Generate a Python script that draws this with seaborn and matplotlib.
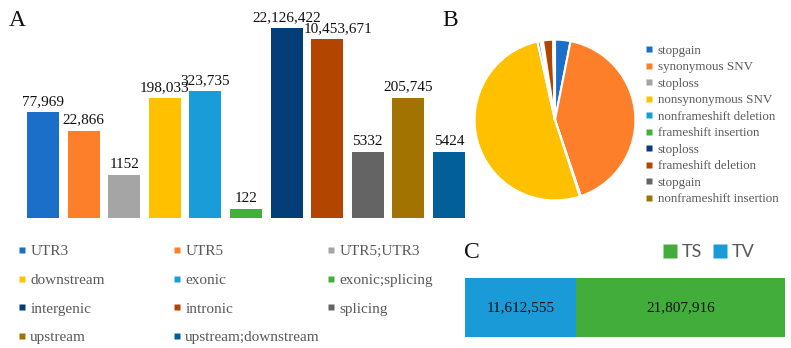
import numpy as np
import pandas as pd
import matplotlib
matplotlib.use("Agg")
import matplotlib.pyplot as plt
from matplotlib.lines import Line2D
import seaborn as sns

# ---------------- data ----------------
region_names = ["UTR3", "UTR5", "UTR5;UTR3", "downstream", "exonic", "exonic;splicing",
                "intergenic", "intronic", "splicing", "upstream", "upstream;downstream"]
region_counts = [77969, 22866, 1152, 198033, 323735, 122,
                 22126422, 10453671, 5332, 205745, 5424]
region_labels = ["77,969", "22,866", "1152", "198,033", "323,735", "122",
                 "22,126,422", "10,453,671", "5332", "205,745", "5424"]
region_colors = ["#1B6FC8", "#FD7F2A", "#A5A5A5", "#FFC000", "#1A9CD9", "#44AF3D",
                 "#033E78", "#B24600", "#646464", "#A27300", "#035F99"]

func_names = ["stopgain", "synonymous SNV", "stoploss", "nonsynonymous SNV",
              "nonframeshift deletion", "frameshift insertion", "stoploss",
              "frameshift deletion", "stopgain", "nonframeshift insertion"]
func_share = [3.1, 41.7, 0.2, 51.5, 0.6, 0.4, 0.1, 2.0, 0.1, 0.3]
func_colors = ["#1B6FC8", "#FD7F2A", "#A5A5A5", "#FFC000", "#1A9CD9", "#44AF3D",
               "#033E78", "#B24600", "#646464", "#A27300"]

tstv_names = ["TV", "TS"]
tstv_counts = [11612555, 21807916]
tstv_labels = ["11,612,555", "21,807,916"]
tstv_colors = {"TV": "#1A9AD7", "TS": "#43AD3C"}

# ---------------- figure ----------------
sns.set_theme(style="white")
plt.rcParams["font.family"] = ["Liberation Serif", "DejaVu Serif"]
W, H = 791, 348
fig = plt.figure(figsize=(W / 100, H / 100), dpi=100)
fig.patch.set_facecolor("white")

def fx(px):
    return px / W

def fy(py):
    return 1 - py / H

grey_txt = "#595959"

# ---------------- panel A ----------------
axA = fig.add_axes([fx(22.7), fy(218), fx(469.3 - 22.7), (218 - 5.4) / H])
dfA = pd.DataFrame({"region": region_names, "count": region_counts})
sns.barplot(data=dfA, x="region", y="count", hue="region", palette=region_colors,
            order=region_names, hue_order=region_names, legend=False,
            width=0.79, saturation=1, ax=axA, edgecolor="none")
axA.set_yscale("log")
axA.set_ylim(66, 1.0e8)
axA.set_xlim(-0.5, len(region_names) - 0.5)
for i, (v, lab) in enumerate(zip(region_counts, region_labels)):
    dx = 8 if lab == "10,453,671" else 0
    axA.annotate(lab, (i, v), xytext=(dx, 3), textcoords="offset points",
                 ha="center", va="bottom", fontsize=11, color="#111111",
                 annotation_clip=False)
axA.set_axis_off()

# legend of A (row-wise order, 3 columns)
handles = [Line2D([], [], marker="s", linestyle="", markersize=5,
                  markerfacecolor=c, markeredgecolor="none") for c in region_colors]
col_x = [18, 173, 327]
for ci in range(3):
    idx = list(range(ci, len(region_names), 3))
    fig.legend([handles[k] for k in idx], [region_names[k] for k in idx],
               loc="upper left", bbox_to_anchor=(fx(col_x[ci]), fy(244.5)),
               frameon=False, fontsize=11, labelcolor=grey_txt,
               handlelength=0.5, handletextpad=0.3, labelspacing=0.98,
               borderaxespad=0, borderpad=0)

# ---------------- panel B ----------------
axB = fig.add_axes([fx(473), fy(202), fx(637 - 473), (202 - 38) / H])
axB.pie(func_share, colors=func_colors, startangle=90, counterclock=False,
        radius=1, wedgeprops=dict(edgecolor="white", linewidth=1.5))
axB.set_xlim(-1.02, 1.02)
axB.set_ylim(-1.02, 1.02)
axB.set_aspect("equal")

handlesB = [Line2D([], [], marker="s", linestyle="", markersize=4.2,
                   markerfacecolor=c, markeredgecolor="none") for c in func_colors]
fig.legend(handlesB, func_names, loc="upper left", bbox_to_anchor=(fx(646), fy(44.5)),
           frameon=False, fontsize=9.4, labelcolor=grey_txt,
           handlelength=0.5, handletextpad=0.4, labelspacing=0.335,
           borderaxespad=0, borderpad=0)

# ---------------- panel C ----------------
axC = fig.add_axes([fx(465), fy(337), fx(785 - 465), (337 - 278) / H])
total = sum(tstv_counts)
sns.barplot(x=[total], y=["TSTV"], orient="h", color=tstv_colors["TS"],
            saturation=1, width=1, ax=axC, edgecolor="none")
sns.barplot(x=[tstv_counts[0]], y=["TSTV"], orient="h", color=tstv_colors["TV"],
            saturation=1, width=1, ax=axC, edgecolor="none")
axC.set_xlim(0, total)
axC.set_ylim(0.5, -0.5)
centers = [tstv_counts[0] / 2, tstv_counts[0] + tstv_counts[1] / 2]
for cx, lab in zip(centers, tstv_labels):
    axC.text(cx, 0, lab, ha="center", va="center", fontsize=11, color="#111111")
axC.set_axis_off()

handlesC = [Line2D([], [], marker="s", linestyle="", markersize=10,
                   markerfacecolor=tstv_colors[k], markeredgecolor="none")
            for k in ["TS", "TV"]]
fig.legend(handlesC, ["TS", "TV"], loc="center left",
           bbox_to_anchor=(fx(663), fy(252)), ncol=2, frameon=False,
           prop={"family": ["Lato", "DejaVu Sans"], "size": 13},
           labelcolor=grey_txt, handlelength=0.8, handletextpad=0.25,
           columnspacing=0.6, borderaxespad=0, borderpad=0)

# ---------------- panel letters ----------------
for letter, x, y in [("A", 9, 21), ("B", 442, 21), ("C", 464, 252)]:
    fig.text(fx(x), fy(y), letter, fontsize=17, va="center", ha="left", color="#111111")

fig.savefig("out.png", dpi=100, facecolor="white")
